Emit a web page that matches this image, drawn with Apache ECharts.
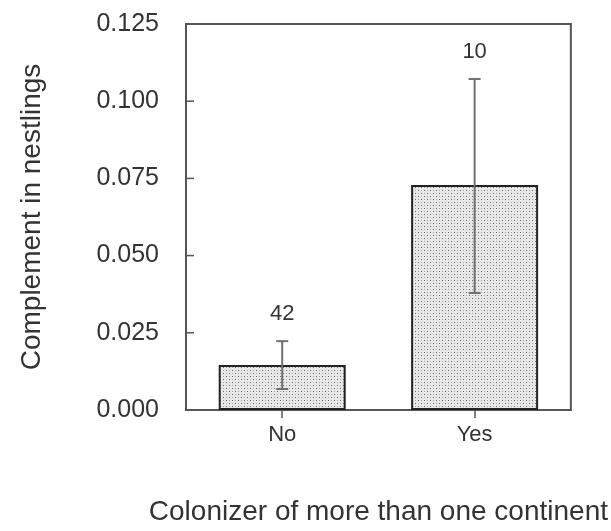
<!DOCTYPE html>
<html>
<head>
<meta charset="utf-8">
<script src="https://cdn.jsdelivr.net/npm/echarts@6/dist/echarts.min.js"></script>
<style>html,body{margin:0;padding:0;background:#fff;}#c{width:611px;height:531px;}</style>
</head>
<body>
<div id="c"></div>
<script>
var categories = ['No', 'Yes'];
var means = [0.0146, 0.0729];
var errLow = [0.0068, 0.0379];
var errHigh = [0.0223, 0.1072];
var counts = ['42', '10'];
var yTicks = [0.025, 0.05, 0.075, 0.1];

var pc = document.createElement('canvas');
pc.width = 6; pc.height = 6;
var g = pc.getContext('2d');
g.fillStyle = '#e8e8e8'; g.fillRect(0, 0, 6, 6);
g.fillStyle = '#6a6a6a';
g.fillRect(1, 1, 1, 1); g.fillRect(4, 4, 1, 1);
g.fillStyle = '#a8a8a8';
g.fillRect(4, 1, 1, 1); g.fillRect(1, 4, 1, 1);

var font = '"Liberation Sans", Arial, Helvetica, sans-serif';
var chart = echarts.init(document.getElementById('c'), null, {renderer: 'canvas'});
var errData = categories.map(function (c, i) { return [i, errLow[i], errHigh[i], counts[i]]; });
var tickData = yTicks.map(function (v) { return [0, v]; });

chart.setOption({
  animation: false,
  grid: {left: 186, top: 24, width: 386, height: 386, show: true, borderColor: '#555', borderWidth: 2, backgroundColor: 'transparent'},
  xAxis: {
    type: 'category', data: categories,
    name: 'Colonizer of more than one continent', nameLocation: 'middle', nameGap: 88,
    nameTextStyle: {fontFamily: font, fontSize: 28, color: '#333'},
    axisLine: {show: true, lineStyle: {color: '#555', width: 2}},
    axisTick: {show: true, alignWithLabel: true, length: 8, lineStyle: {color: '#555', width: 1.5}},
    axisLabel: {fontFamily: font, fontSize: 22, color: '#333', margin: 14}
  },
  yAxis: {
    type: 'value', min: 0, max: 0.125, interval: 0.025,
    name: 'Complement in nestlings', nameLocation: 'middle', nameGap: 140, nameRotate: 90,
    nameTextStyle: {fontFamily: font, fontSize: 28, color: '#333'},
    axisLine: {show: true, lineStyle: {color: '#555', width: 2}},
    axisTick: {show: false},
    axisLabel: {fontFamily: font, fontSize: 25, color: '#333', margin: 27,
      formatter: function (v) { return v.toFixed(3); }},
    splitLine: {show: false}
  },
  series: [
    {
      type: 'bar', data: means, barWidth: '66%',
      itemStyle: {color: {image: pc, repeat: 'repeat'}, borderColor: '#222', borderWidth: 2}
    },
    {
      type: 'custom', data: errData, z: 10,
      renderItem: function (params, api) {
        var x = api.coord([api.value(0), 0])[0];
        var lo = api.coord([api.value(0), api.value(1)])[1];
        var hi = api.coord([api.value(0), api.value(2)])[1];
        var cap = 6;
        var st = {stroke: '#707070', lineWidth: 2};
        return {type: 'group', children: [
          {type: 'line', shape: {x1: x, y1: lo, x2: x, y2: hi}, style: st},
          {type: 'line', shape: {x1: x - cap, y1: lo, x2: x + cap, y2: lo}, style: st},
          {type: 'line', shape: {x1: x - cap, y1: hi, x2: x + cap, y2: hi}, style: st},
          {type: 'text', style: {text: errData[params.dataIndex][3], x: x, y: hi - 16,
            textAlign: 'center', textVerticalAlign: 'bottom', fontFamily: font, fontSize: 22, fill: '#333'}}
        ]};
      }
    },
    {
      type: 'custom', data: tickData, z: 11, silent: true,
      renderItem: function (params, api) {
        var left = params.coordSys.x;
        var y = api.coord([0, api.value(1)])[1];
        return {type: 'line', shape: {x1: left, y1: y, x2: left + 8, y2: y},
          style: {stroke: '#555', lineWidth: 1.5}};
      }
    }
  ]
});
</script>
</body>
</html>
